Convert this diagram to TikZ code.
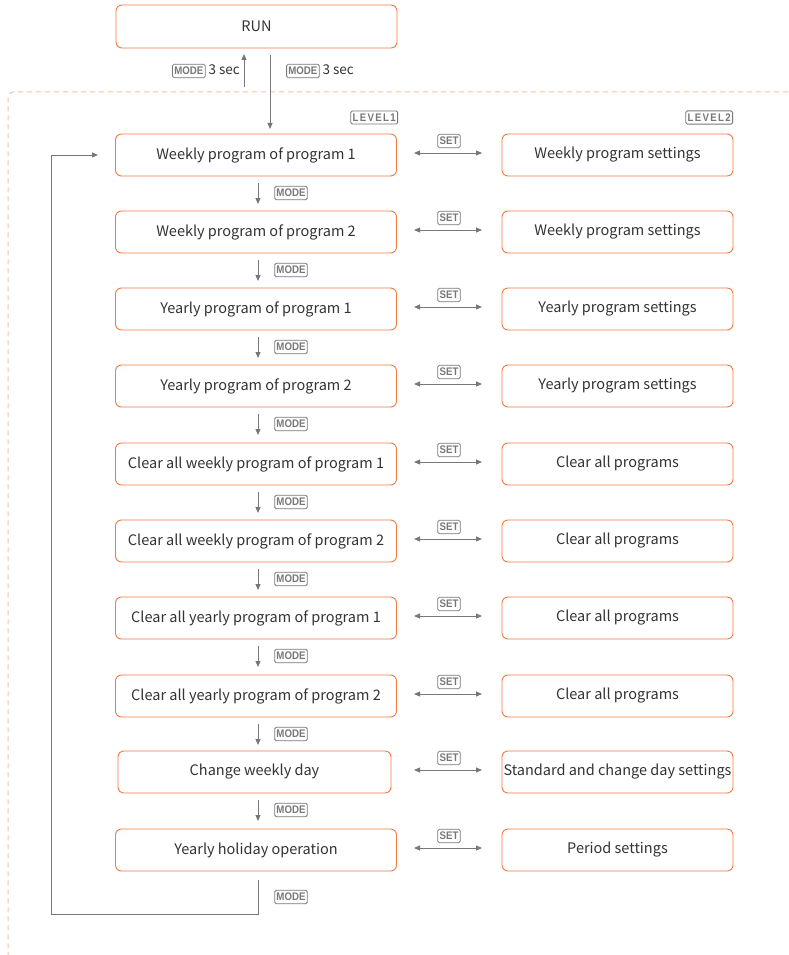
\documentclass[tikz,border=0pt]{standalone}
\usepackage{fontspec}
\setmainfont{Noto Sans CJK KR}
\newfontfamily\badgefont[FakeStretch=0.88]{Liberation Sans}
\usetikzlibrary{arrows.meta,positioning,calc}
\definecolor{boxor}{HTML}{F07A40}
\definecolor{dashor}{HTML}{F6BFA3}
\definecolor{txt}{HTML}{333333}
\definecolor{arr}{HTML}{777777}
\tikzset{
  lbox/.style={draw=boxor, line width=0.9pt, rounded corners=6pt, minimum width=281pt, minimum height=42pt, inner sep=0pt, text=txt, font=\fontsize{14.5}{16}\selectfont},
  rbox/.style={draw=boxor, line width=0.9pt, rounded corners=6pt, minimum width=231pt, minimum height=42pt, inner sep=0pt, text=txt, font=\fontsize{14.5}{16}\selectfont},
  badge/.style={draw=arr, line width=0.8pt, rounded corners=1.5pt, inner xsep=1.8pt, inner ysep=2.8pt, text=arr, font=\badgefont\bfseries\fontsize{11}{12}\selectfont},
  lvbadge/.style={badge, font=\badgefont\bfseries\fontsize{11}{12}\selectfont\addfontfeature{LetterSpace=12}},
  garrow/.style={draw=arr, line width=1pt, -{Triangle[width=5pt,length=6pt]}},
  darrow/.style={draw=arr, line width=1pt, {Triangle[width=5pt,length=6pt]}-{Triangle[width=5pt,length=6pt]}},
}
\begin{document}
\begin{tikzpicture}[x=1pt,y=-1pt]
\useasboundingbox (0,0) rectangle (788,955);
% dashed frame
\draw[dashor, line width=1pt, dash pattern=on 5pt off 4pt, rounded corners=5pt] (788,92) -- (8,92) -- (8,955);
% RUN
\node[lbox, minimum width=281pt, minimum height=43pt] (run) at (256.5,26.5) {RUN};
\coordinate (upS) at (244,87);
\coordinate (upE) at (244,54);
\draw[garrow] (upS) -- (upE);
\coordinate (dnS) at (270,55);
\coordinate (dnE) at (270,129);
\draw[garrow] (dnS) -- (dnE);
\node[anchor=east, inner sep=0pt] (ml) at (240,71) {\tikz[baseline=(b.base)]\node[badge] (b) {MODE};\hspace{3pt}{\color{txt}\fontsize{13.5}{15}\selectfont 3 sec}};
\node[anchor=west, inner sep=0pt] (mr) at (286,71) {\tikz[baseline=(b.base)]\node[badge] (b) {MODE};\hspace{3pt}{\color{txt}\fontsize{13.5}{15}\selectfont 3 sec}};
\node[lvbadge, anchor=east] (lv1) at (398,117.5) {LEVEL1};
\node[lvbadge, anchor=east] (lv2) at (733,117.5) {LEVEL2};
% rows
\foreach \i/\y/\lt/\rt in {
 1/155/{Weekly program of program 1}/{Weekly program settings},
 2/232/{Weekly program of program 2}/{Weekly program settings},
 3/309/{Yearly program of program 1}/{Yearly program settings},
 4/386/{Yearly program of program 2}/{Yearly program settings},
 5/464/{Clear all weekly program of program 1}/{Clear all programs},
 6/541/{Clear all weekly program of program 2}/{Clear all programs},
 7/618/{Clear all yearly program of program 1}/{Clear all programs},
 8/696/{Clear all yearly program of program 2}/{Clear all programs},
 10/850/{Yearly holiday operation}/{Period settings}}{
  \node[lbox] (L\i) at (256,\y) {\lt};
  \node[rbox] (R\i) at (617.5,\y) {\rt};
}
\node[lbox, minimum width=273pt] (L9) at (254.5,772) {Change weekly day};
\node[rbox] (R9) at (617.5,772) {Standard and change day settings};
% set arrows
\foreach \i/\y in {1/155,2/232,3/309,4/386,5/464,6/541,7/618,8/696,9/772,10/850}{
  \coordinate (sa\i) at (414,\y-2);
  \coordinate (sb\i) at (482,\y-2);
  \draw[darrow] (sa\i) -- (sb\i);
  \node[badge] (set\i) at (449,\y-14) {SET};
}
% mode arrows
\foreach \i/\j/\y in {1/2/155,2/3/232,3/4/309,4/5/386,5/6/464,6/7/541,7/8/618,8/9/696,9/10/772}{
  \coordinate (ma\i) at (258,\y+28);
  \coordinate (mb\i) at (258,\y+49);
  \draw[garrow] (ma\i) -- (mb\i);
  \node[badge] (mode\i) at (291,\y+38) {MODE};
}
\node[badge] (mode10) at (291,897) {MODE};
% loop back
\coordinate (lp0) at (258,880);
\coordinate (lp1) at (258,914);
\coordinate (lp2) at (51,914);
\coordinate (lp3) at (51,155);
\coordinate (lp4) at (98,155);
\draw[garrow] (lp0) -- (lp1) -- (lp2) -- (lp3) -- (lp4);
\end{tikzpicture}
\end{document}
